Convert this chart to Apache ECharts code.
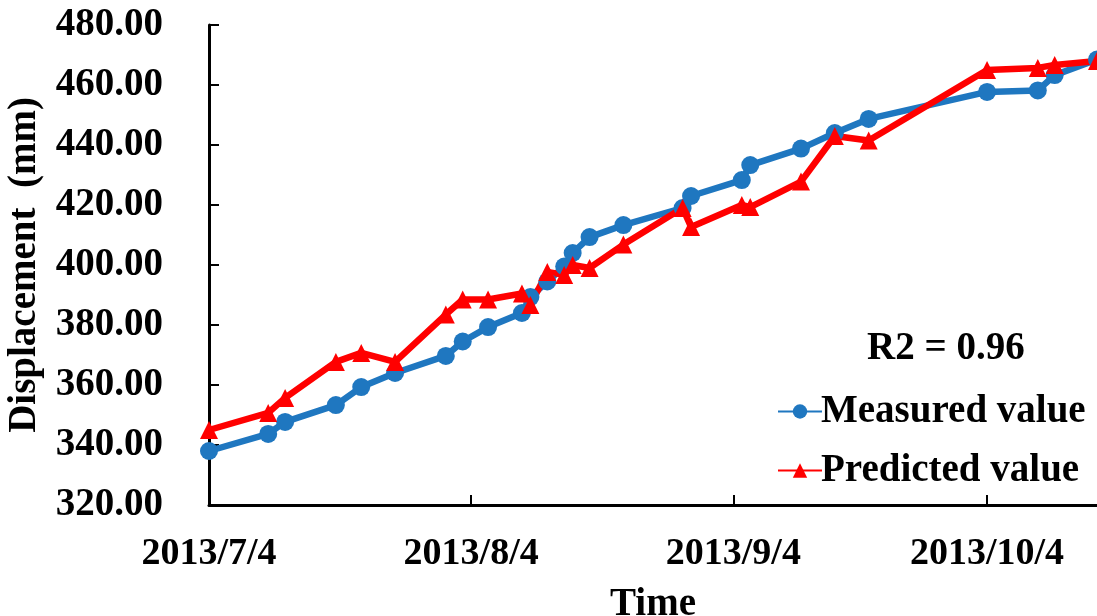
<!DOCTYPE html>
<html><head><meta charset="utf-8">
<script src="https://cdn.jsdelivr.net/npm/echarts@6/dist/echarts.min.js"></script>
<style>html,body{margin:0;padding:0;background:#fff}#c{width:1097px;height:616px}</style>
</head><body><div id="c"></div>
<script>
const dates = ['2013-07-04','2013-07-11','2013-07-13','2013-07-19','2013-07-22','2013-07-26','2013-08-01','2013-08-03','2013-08-06','2013-08-10','2013-08-11','2013-08-13','2013-08-15','2013-08-16','2013-08-18','2013-08-22','2013-08-29','2013-08-30','2013-09-05','2013-09-06','2013-09-12','2013-09-16','2013-09-20','2013-10-04','2013-10-10','2013-10-12','2013-10-17'];
const measured = [338,343.7,347.7,353.3,359.3,364,369.7,374.5,379.3,384,389.3,394.5,399.5,404,409.3,413.3,419,423,428.3,433.3,438.8,444,448.7,457.7,458.2,463.3,468.5];
const predicted = [345,350.7,355.7,367.7,370.7,367.7,383.5,388.5,388.5,390.5,386.7,397.7,396.7,400,399,406.8,419,412.7,420,419.3,427.8,443,441.5,465,465.7,466.7,468];
const xTicks = ['2013-07-04','2013-08-04','2013-09-04','2013-10-04'];
const xRange = ['2013-07-04','2013-10-17'];
const yTicks = {min:320, max:480, step:20};
const seriesNames = ['Measured value','Predicted value'];
const r2Text = 'R2 = 0.96';

const DAY = 86400000;
function ts(s){const p=s.split('-').map(Number);return Date.UTC(p[0],p[1]-1,p[2]);}
const t0 = ts(xRange[0]);
function dayOf(s){return Math.round((ts(s)-t0)/DAY);}
function fmt(v){const d=new Date(t0+Math.round(v)*DAY);return d.getUTCFullYear()+'/'+(d.getUTCMonth()+1)+'/'+d.getUTCDate();}
const font = "'Liberation Serif', 'Times New Roman', serif";
const txt = {fontFamily:font,fontWeight:'bold',fontSize:39,color:'#000'};
const chart = echarts.init(document.getElementById('c'));
chart.setOption({
  animation:false,
  textStyle:{fontFamily:font},
  title:{text:r2Text,left:862,top:324,textStyle:txt},
  legend:{orient:'vertical',left:772,top:387,itemWidth:44,itemHeight:18,itemGap:20,
    textStyle:Object.assign({},txt,{padding:[0,0,0,-6]}),
    data:seriesNames},
  grid:{left:209,right:0,top:25,bottom:111,outerBoundsMode:'none',containLabel:false},
  xAxis:{type:'value',min:dayOf(xRange[0]),max:dayOf(xRange[1]),
    name:'Time',nameLocation:'middle',nameGap:80,
    nameTextStyle:txt,
    axisLine:{lineStyle:{color:'#000',width:3}},
    axisTick:{inside:true,length:10,lineStyle:{color:'#000',width:2},customValues:xTicks.map(dayOf)},
    axisLabel:Object.assign({customValues:xTicks.map(dayOf),formatter:fmt,margin:30},txt,{fontSize:38}),
    splitLine:{show:false}},
  yAxis:{type:'value',min:yTicks.min,max:yTicks.max,interval:yTicks.step,
    name:'Displacement  (mm)',nameLocation:'middle',nameGap:160,
    nameTextStyle:txt,
    axisLine:{show:true,lineStyle:{color:'#000',width:3}},
    axisTick:{show:true,inside:true,length:10,lineStyle:{color:'#000',width:2}},
    axisLabel:Object.assign({formatter:v=>v.toFixed(2),margin:46},txt),
    splitLine:{show:false}},
  series:[
    {name:seriesNames[0],type:'line',data:dates.map((d,i)=>[dayOf(d),measured[i]]),
     symbol:'circle',symbolSize:18,lineStyle:{color:'#1f77c0',width:6.5},itemStyle:{color:'#1f77c0'},clip:false},
    {name:seriesNames[1],type:'line',data:dates.map((d,i)=>[dayOf(d),predicted[i]]),
     symbol:'triangle',symbolSize:18,lineStyle:{color:'#ff0000',width:6.5},itemStyle:{color:'#ff0000'},clip:false}
  ]
});
</script></body></html>
